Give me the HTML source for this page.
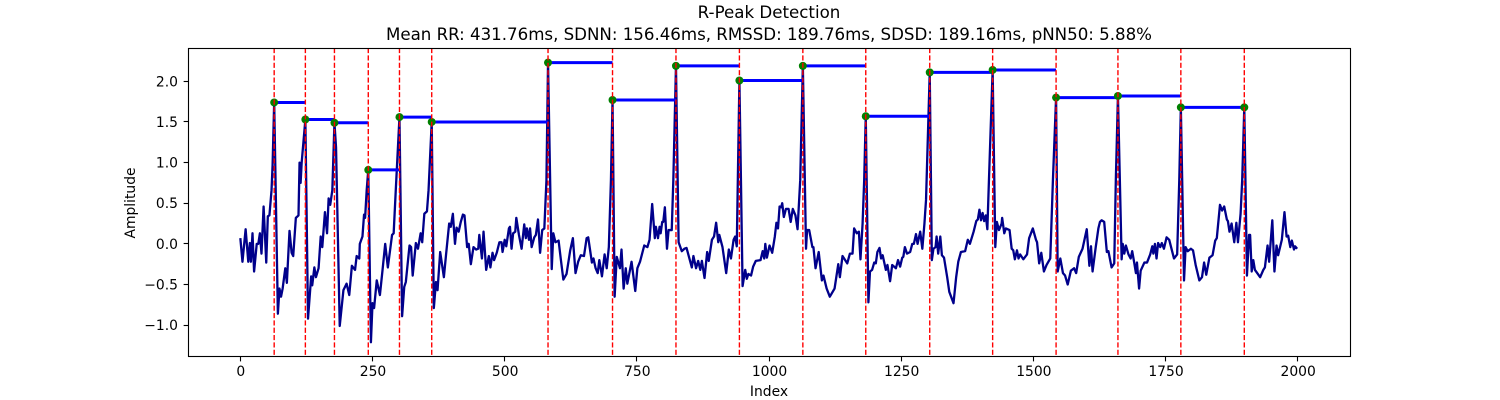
<!DOCTYPE html>
<html>
<head>
<meta charset="utf-8">
<title>R-Peak Detection</title>
<style>
html,body{margin:0;padding:0;background:#fff;width:1500px;height:400px;overflow:hidden}
svg{display:block}
text{font-family:"DejaVu Sans","Liberation Sans",sans-serif;fill:#000}
</style>
</head>
<body>
<svg id="chart" width="1500" height="400" viewBox="0 0 1500 400" xmlns="http://www.w3.org/2000/svg">
<rect x="0" y="0" width="1500" height="400" fill="#fff"/>
<text x="769" y="18" font-size="16.67" text-anchor="middle">R-Peak Detection</text>
<text x="769" y="40" font-size="16.67" text-anchor="middle" textLength="766" lengthAdjust="spacing">Mean RR: 431.76ms, SDNN: 156.46ms, RMSSD: 189.76ms, SDSD: 189.16ms, pNN50: 5.88%</text>
<text x="769" y="396" font-size="13.89" text-anchor="middle">Index</text>
<text transform="translate(135 203) rotate(-90)" font-size="13.89" text-anchor="middle">Amplitude</text>
<g id="plot"></g>
</svg>
<script>
const sampleIndex = [0,4,10,15,18,20,23,26,31,34,37,40,44,49,52,55,59,61,64,71,74,77,80,85,88,93,97,100,105,110,112,114,116,123,128,134,136,140,143,148,152,155,160,164,167,170,174,178,181,188,195,201,206,211,217,220,225,226,231,234,236,239,242,247,250,253,258,264,269,274,279,287,290,294,301,306,310,313,320,323,326,332,336,341,344,348,353,356,362,366,370,373,378,385,389,395,398,402,406,409,413,417,421,424,429,432,436,441,446,450,452,457,460,465,470,473,477,480,485,490,494,496,500,503,508,510,513,516,520,522,527,532,537,540,542,546,548,551,556,559,563,567,571,575,579,582,589,592,596,602,606,611,617,624,629,634,639,644,650,655,658,665,668,672,676,679,684,689,693,697,701,704,708,712,718,721,725,729,732,740,747,751,756,764,770,774,779,784,786,790,793,795,798,800,803,807,810,816,819,824,829,835,840,844,854,857,862,866,870,873,878,883,886,892,896,900,904,906,912,919,924,928,933,936,939,941,944,950,955,958,961,966,970,975,984,988,991,993,996,1001,1006,1011,1014,1017,1020,1023,1025,1028,1032,1037,1041,1045,1050,1054,1059,1064,1070,1072,1076,1082,1084,1088,1094,1100,1103,1109,1115,1124,1131,1134,1139,1148,1153,1158,1161,1166,1170,1173,1177,1180,1183,1188,1191,1195,1199,1202,1205,1209,1212,1215,1221,1224,1229,1233,1240,1244,1248,1252,1254,1257,1261,1267,1271,1274,1278,1281,1286,1290,1294,1297,1304,1308,1311,1315,1317,1320,1324,1327,1331,1337,1341,1349,1354,1358,1363,1371,1376,1380,1387,1392,1395,1398,1401,1404,1407,1410,1413,1416,1423,1428,1431,1435,1440,1441,1445,1448,1455,1459,1462,1465,1469,1472,1475,1481,1488,1492,1499,1505,1507,1511,1515,1520,1525,1532,1537,1543,1546,1551,1556,1560,1565,1571,1577,1581,1586,1593,1601,1606,1609,1612,1618,1623,1626,1629,1634,1639,1642,1648,1653,1656,1660,1667,1669,1672,1675,1680,1684,1687,1691,1694,1696,1700,1703,1710,1715,1721,1725,1727,1730,1733,1736,1740,1743,1747,1752,1757,1766,1772,1776,1779,1785,1788,1792,1798,1802,1807,1814,1819,1823,1827,1833,1839,1844,1847,1853,1857,1861,1866,1868,1871,1875,1880,1884,1887,1892,1895,1899,1904,1908,1910,1913,1916,1919,1929,1935,1938,1943,1946,1952,1956,1960,1963,1970,1975,1979,1982,1986,1989,1993,1995,1999];
const amplitude = [0.07,-0.22,0.18,-0.22,0.01,-0.22,0.13,-0.34,0,0,0.13,-0.12,0.46,-0.23,0.34,0.35,0.66,0.97,1.74,-0.86,-0.55,-0.65,-0.55,-0.30,-0.48,0.16,-0.11,-0.15,0.32,0.35,1.0,0.75,1.0,1.53,-0.92,-0.40,-0.51,-0.29,-0.41,-0.30,0.09,-0.04,0.39,0.13,0.56,0.48,0.66,1.49,1.19,-1.01,-0.57,-0.49,-0.63,-0.27,-0.32,-0.15,-0.18,0,0.09,0.36,0.32,0.66,0.91,-1.21,-0.73,-0.79,-0.45,-0.63,-0.32,0,-0.29,0.11,0.13,0.66,1.56,-0.89,-0.53,-0.47,-0.02,-0.04,-0.39,0.01,-0.06,0.13,0.02,0.37,0.40,0.66,1.50,-0.79,-0.47,-0.57,-0.10,-0.41,-0.14,0.25,0.21,0.37,0,0.20,0.15,0.27,0.36,0.35,-0.04,0,-0.25,-0.04,-0.07,-0.06,0.11,-0.18,0.15,-0.32,-0.15,-0.29,-0.11,-0.20,-0.11,0.02,0.02,-0.10,0.05,-0.03,0.19,0.21,-0.06,0.13,0.15,0.32,0.11,-0.06,0.24,0.07,0.19,0.05,0.19,-0.04,0.08,0.11,0.30,-0.11,0.17,0.19,0.78,2.23,-0.31,0.13,0.02,0.04,-0.18,-0.44,-0.37,-0.08,0.07,-0.36,-0.22,-0.14,-0.15,0.07,0.08,-0.23,-0.18,-0.30,-0.36,-0.20,-0.40,-0.13,-0.30,-0.04,0.78,1.77,-0.65,-0.16,-0.30,-0.07,-0.55,-0.30,-0.49,-0.22,-0.58,-0.30,-0.22,-0.02,-0.04,0.05,0.49,0.07,0.21,0.07,0.21,0.13,0.27,0.27,0.45,-0.06,0.17,0.17,0.78,2.19,0.02,-0.09,-0.06,-0.05,-0.29,-0.15,-0.30,-0.21,-0.32,-0.21,-0.42,-0.10,-0.21,0.05,0.09,0.26,0.02,0.11,-0.04,-0.36,-0.07,-0.18,0.05,0.09,-0.03,0.78,2.01,-0.52,-0.32,-0.43,-0.37,-0.39,-0.28,-0.21,-0.20,-0.09,-0.18,0,-0.17,-0.02,-0.11,0.09,0.26,0.19,0.46,0.45,0.50,0.33,0.43,0.43,0.27,0.43,0.35,0.18,0.78,2.19,-0.06,0.17,0.17,-0.04,-0.04,-0.30,-0.10,-0.45,-0.39,-0.55,-0.65,-0.55,-0.25,-0.41,-0.15,-0.24,-0.12,-0.12,0.19,0.13,0.15,-0.19,0.25,0.78,1.57,-0.72,-0.34,-0.32,-0.23,-0.24,-0.10,-0.05,-0.18,-0.14,-0.32,-0.26,-0.46,-0.26,-0.30,-0.20,-0.28,-0.17,-0.16,-0.04,-0.12,-0.10,0,0,0.12,0,0.15,-0.06,0.25,0.54,2.11,-0.20,-0.06,-0.04,0.09,-0.12,0.09,-0.14,-0.17,-0.41,-0.59,-0.73,-0.41,-0.22,-0.10,-0.09,0.05,0,0.15,0.28,0.30,0.42,0.29,0.38,0.28,0.35,0.18,0.78,2.14,-0.04,0.27,0.17,0.25,0.32,0.13,0.19,0.17,-0.06,-0.08,-0.19,-0.08,-0.18,-0.13,-0.19,-0.13,0.07,0.19,0.05,0.02,-0.24,-0.11,-0.34,-0.26,-0.18,0.78,1.80,-0.34,-0.18,-0.36,-0.39,-0.50,-0.33,-0.30,-0.36,-0.16,-0.06,0.18,-0.27,-0.03,-0.34,-0.04,0.19,0.27,0.29,0.27,-0.10,-0.09,-0.29,-0.24,0.78,1.82,-0.19,0,-0.12,-0.02,-0.13,-0.18,-0.09,-0.24,-0.36,-0.23,-0.55,-0.33,-0.23,-0.23,-0.13,-0.03,-0.12,0,-0.18,0.01,-0.04,0.01,-0.06,0.08,0.05,-0.18,-0.13,0.78,1.68,-0.45,-0.04,-0.09,-0.06,-0.08,-0.26,-0.45,-0.41,-0.23,-0.38,-0.17,-0.14,0.04,0.07,0.48,0.41,0.46,0.30,0.28,0.15,0.25,0.02,0.26,0.02,0.37,0.78,1.68,-0.39,0.11,0.11,-0.34,-0.20,-0.32,-0.41,-0.32,-0.29,-0.02,-0.22,0.29,-0.34,-0.02,-0.14,0.05,0.39,0.09,0.10,-0.04,0.04,-0.07,-0.03,-0.06];
const peakIndex = [64,123,178,242,301,362,582,704,824,944,1064,1183,1304,1423,1543,1660,1779,1899];
const peakAmplitude = [1.74,1.53,1.49,0.91,1.56,1.50,2.23,1.77,2.19,2.01,2.19,1.57,2.11,2.14,1.80,1.82,1.68,1.68];
const xTickValues = [0,250,500,750,1000,1250,1500,1750,2000];
const yTickValues = [-1.0,-0.5,0.0,0.5,1.0,1.5,2.0];
const xDomain = [-99.95,2098.95];
const yDomain = [-1.38,2.41];

const axLeft = 187.5, axRight = 1350, axTop = 48, axBottom = 356;
const NS = 'http://www.w3.org/2000/svg';
const plot = document.getElementById('plot');
function xScale(v){ return axLeft + (v - xDomain[0]) / (xDomain[1] - xDomain[0]) * (axRight - axLeft); }
function yScale(v){ return axBottom - (v - yDomain[0]) / (yDomain[1] - yDomain[0]) * (axBottom - axTop); }
function snap(v){ return Math.floor(v) + 0.5; }
function make(tag, attrs){
  const el = document.createElementNS(NS, tag);
  for (const k in attrs) el.setAttribute(k, attrs[k]);
  plot.appendChild(el);
  return el;
}

// signal trace
const signalPoints = sampleIndex.map((v, i) => xScale(v).toFixed(2) + ',' + yScale(amplitude[i]).toFixed(2)).join(' ');
const trace = make('polyline', {points: signalPoints, fill: 'none', stroke: '#00008b', 'stroke-width': 2.3, 'stroke-linejoin': 'round'});



// RR interval lines
peakIndex.slice(0, -1).forEach((p, i) => {
  const seg = make('line', {x1: xScale(p), x2: xScale(peakIndex[i + 1]), y1: yScale(peakAmplitude[i]), y2: yScale(peakAmplitude[i]), stroke: '#0000ff', 'stroke-width': 3});
  
  
});

// peak markers
peakIndex.forEach((p, i) => {
  const dot = make('circle', {cx: xScale(p), cy: yScale(peakAmplitude[i]), r: 4, fill: '#008000'});
  
  
});

// peak guide lines
peakIndex.forEach((p) => {
  const guide = make('line', {x1: xScale(p), x2: xScale(p), y1: axTop, y2: axBottom, stroke: '#ff0000', 'stroke-width': 1.39, 'stroke-dasharray': '5.14 2.22'});
  
  
});

// axes frame, snapped to the pixel grid
const frame = make('rect', {x: snap(axLeft + 0.5), y: snap(axTop), width: snap(axRight) - snap(axLeft + 0.5), height: snap(axBottom) - snap(axTop), fill: 'none', stroke: '#000', 'stroke-width': 1.11});



// ticks
xTickValues.forEach((t) => {
  const mark = make('line', {x1: snap(xScale(t)), x2: snap(xScale(t)), y1: axBottom + 0.5, y2: axBottom + 5.4, stroke: '#000', 'stroke-width': 1.11});
  
  
  const label = make('text', {x: xScale(t) + 0.5, y: axBottom + 20, 'font-size': 13.89, 'text-anchor': 'middle'});
  
  
  label.textContent = String(t);
});
yTickValues.forEach((t) => {
  const mark = make('line', {x1: axLeft + 1 - 4.86, x2: axLeft + 1, y1: snap(yScale(t)), y2: snap(yScale(t)), stroke: '#000', 'stroke-width': 1.11});
  
  
  const label = make('text', {x: axLeft - 9.5, y: yScale(t) + 5, 'font-size': 13.89, 'text-anchor': 'end'});
  
  
  label.textContent = (t < 0 ? '\u2212' : '') + Math.abs(t).toFixed(1);
});
</script>
</body>
</html>
